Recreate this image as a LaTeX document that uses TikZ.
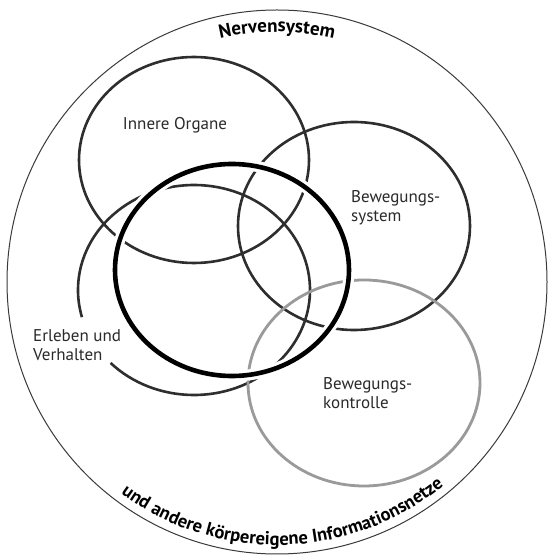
\documentclass[tikz,border=0pt]{standalone}
\usepackage{fontspec}
\setmainfont{PT Sans}
\usetikzlibrary{decorations.text}
\definecolor{outerc}{HTML}{3A3A3A}
\definecolor{ringc}{HTML}{2E2E2E}
\definecolor{greyring}{HTML}{9A9A9A}
\definecolor{labelc}{HTML}{2A2A2A}
\begin{document}
\begin{tikzpicture}[x=1pt,y=1pt,
  ring/.style={line width=2.6pt, draw=ringc},
  lbl/.style={font=\fontsize{17}{19.5}\selectfont, text=labelc, align=left, inner sep=0pt},
  arctext/.style={decorate, decoration={text along path, text align=center, text color=black}}
]
\useasboundingbox (0,0) rectangle (549,557);
\fill[white] (0,0) rectangle (549,557);
% outer circle
\draw[line width=1pt, draw=outerc] (277,275) ellipse [x radius=270pt, y radius=272pt];
% Innere Organe
\draw[ring] (194,397) ellipse [x radius=115pt, y radius=103pt];
% Bewegungssystem
\draw[ring] (354,331) ellipse [x radius=116pt, y radius=104pt];
% Erleben und Verhalten (open arc)
\draw[ring] (194,267) ++(224:116pt and 105pt) arc [start angle=224, end angle=555, x radius=116pt, y radius=105pt];
% Bewegungskontrolle
\draw[line width=2.8pt, draw=greyring] (364,174) ellipse [x radius=116pt, y radius=103pt];
% thick central circle with halo
\draw[white, line width=11pt] (232,287) ellipse [x radius=117pt, y radius=106pt];
\draw[black, line width=4.6pt] (232,287) ellipse [x radius=117pt, y radius=106pt];
% labels
\node[lbl, anchor=center] (io) at (175,432) {Innere Organe};
\node[lbl, anchor=west] (bs) at (351,349.5) {Bewegungs-\\system};
\node[lbl, anchor=west] (ev) at (33,212) {Erleben und\\Verhalten};
\node[lbl, anchor=west] (bk) at (323,164) {Bewegungs-\\kontrolle};
% curved texts
\path[arctext, decoration={text={|\fontsize{19}{19}\selectfont\bfseries|Nervensystem}}]
  (277,275) ++(125:250pt) arc [start angle=125, end angle=55, radius=250pt];
\path[arctext, decoration={text={|\fontsize{18.5}{18.5}\selectfont\bfseries|und andere körpereigene Informationsnetze}}]
  (277,275) ++(196:263pt) arc [start angle=196, end angle=347, radius=263pt];
\end{tikzpicture}
\end{document}
